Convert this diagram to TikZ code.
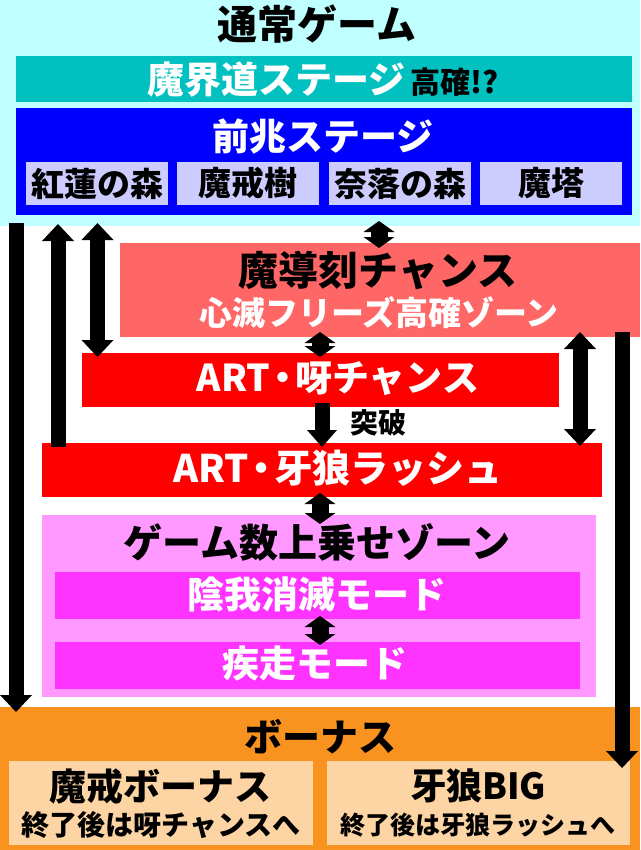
\documentclass[tikz,border=0pt]{standalone}
\usepackage{fontspec}
\setmainfont{Noto Sans CJK JP}
\usetikzlibrary{arrows.meta}
\newcommand\fsz[1]{\fontsize{#1pt}{#1pt}\selectfont}
\newcommand\ndot{\hspace{-6pt}・\hspace{-6pt}}
\definecolor{cybg}{HTML}{C0FFFF}
\definecolor{teal1}{HTML}{00C0C0}
\definecolor{blue1}{HTML}{0000FF}
\definecolor{lav}{HTML}{CCCCFF}
\definecolor{salmon1}{HTML}{FF6666}
\definecolor{red1}{HTML}{FF0000}
\definecolor{pink1}{HTML}{FF99FF}
\definecolor{mag1}{HTML}{FF33FF}
\definecolor{orange1}{HTML}{F7931E}
\definecolor{peach1}{HTML}{FDD4A3}
\tikzset{
  box/.style={rectangle, inner sep=0pt, outer sep=0pt, draw=none},
  lbl/.style={inner sep=0pt, outer sep=0pt},
  subbox/.style={box, fill=lav, minimum width=142pt, minimum height=43pt, font=\bfseries\fsz{33}},
  magbox/.style={box, fill=mag1, minimum width=525pt, minimum height=47pt},
  peachbox/.style={box, fill=peach1, minimum height=84pt},
  bt/.tip={Triangle[width=32pt,length=17pt,line width=0pt]},
  st/.tip={Triangle[width=31pt,length=11pt,line width=0pt]},
  bigarr/.style={line width=15pt, draw=black},
  smallarr/.style={line width=17pt, draw=black, {st}-{st}},
}
\begin{document}
\begin{tikzpicture}[x=1pt,y=-1pt, every node/.append style={font=\bfseries}]
\useasboundingbox (0,0) rectangle (640,850);
% top area
\node[box, fill=cybg, minimum width=640pt, minimum height=226pt] (top) at (320,113) {};
\node[lbl, font=\bfseries\fsz{40}] (ttl) at (317,24) {通常ゲーム};
\node[box, fill=teal1, minimum width=616pt, minimum height=46pt] (makai) at (324,79) {};
\node[lbl] (makait) at (323,80) {{\color{white}\fsz{37}魔界道ステージ}\hspace{5pt}{\fsz{30}高確!?}};
\node[box, fill=blue1, minimum width=616pt, minimum height=107pt] (zen) at (324,161.5) {};
\node[lbl, text=white, font=\bfseries\fsz{37}] (zent) at (323,136) {前兆ステージ};
\node[subbox] (s1) at (97,183.5) {紅蓮の森};
\node[subbox] (s2) at (248,183.5) {魔戒樹};
\node[subbox] (s3) at (400,183.5) {奈落の森};
\node[subbox] (s4) at (551,183.5) {魔塔};
% madou
\node[box, fill=salmon1, minimum width=520pt, minimum height=94pt] (mado) at (380,290) {};
\node[lbl, font=\bfseries\fsz{40}] (madot) at (378,271) {魔導刻チャンス};
\node[lbl, text=white, font=\bfseries\fsz{33}] (madot2) at (379,313) {心滅フリーズ高確ゾーン};
% ART
\node[box, fill=red1, minimum width=477pt, minimum height=54pt] (art1) at (320.5,380) {};
\node[lbl, text=white, font=\bfseries\fsz{37}] (art1t) at (338,379) {ART\ndot 呀チャンス};
\node[lbl, font=\bfseries\fsz{28}] (toppa) at (378,423) {突破};
\node[box, fill=red1, minimum width=560pt, minimum height=54pt] (art2) at (322,470) {};
\node[lbl, text=white, font=\bfseries\fsz{38}] (art2t) at (338,468) {ART\ndot 牙狼ラッシュ};
% zone
\node[box, fill=pink1, minimum width=554pt, minimum height=182pt] (zone) at (319,606) {};
\node[lbl, font=\bfseries\fsz{39}] (zonet) at (317,542) {ゲーム数上乗せゾーン};
\node[magbox] (m1) at (317.5,595.5) {};
\node[lbl, text=white, font=\bfseries\fsz{37}] (m1t) at (317,595) {陰我消滅モード};
\node[magbox] (m2) at (317.5,665.5) {};
\node[lbl, text=white, font=\bfseries\fsz{37}] (m2t) at (315,664) {疾走モード};
% bonus
\node[box, fill=orange1, minimum width=640pt, minimum height=143pt] (bonus) at (320,778.5) {};
\node[lbl, font=\bfseries\fsz{38}] (bonust) at (320,737) {ボーナス};
\node[peachbox, minimum width=304pt] (bl) at (161,803) {};
\node[lbl, font=\bfseries\fsz{37}] (blt) at (160,786) {魔戒ボーナス};
\node[lbl, font=\bfseries\fsz{28}] (blt2) at (161,825) {終了後は呀チャンスへ};
\node[peachbox, minimum width=303pt] (br) at (478.5,803) {};
\node[lbl, font=\bfseries\fsz{36}] (brt) at (478,786) {牙狼BIG};
\node[lbl, font=\bfseries\fsz{25}] (brt2) at (478,825) {終了後は牙狼ラッシュへ};
% arrow end points
\coordinate (aL1) at (16,223);   \coordinate (aL2) at (16,712);
\coordinate (aU1) at (58,447);   \coordinate (aU2) at (58,224);
\coordinate (aD1) at (97.5,223); \coordinate (aD2) at (97.5,357);
\coordinate (sA1) at (379,221);  \coordinate (sA2) at (379,248);
\coordinate (sB1) at (320,332);  \coordinate (sB2) at (320,357);
\coordinate (aT1) at (322,403);  \coordinate (aT2) at (322,447);
\coordinate (aR1) at (580,332);  \coordinate (aR2) at (580,446);
\coordinate (aRL1) at (622,332); \coordinate (aRL2) at (622,768);
\coordinate (sC1) at (320,493);  \coordinate (sC2) at (320,524);
\coordinate (sD1) at (320,616);  \coordinate (sD2) at (320,645);
% arrows
\draw[bigarr, -{bt}] (aL1) -- (aL2);
\draw[bigarr, -{bt}] (aU1) -- (aU2);
\draw[bigarr, {bt}-{bt}] (aD1) -- (aD2);
\draw[smallarr] (sA1) -- (sA2);
\draw[smallarr] (sB1) -- (sB2);
\draw[bigarr, -{Triangle[width=30pt,length=17pt,line width=0pt]}] (aT1) -- (aT2);
\draw[bigarr, {bt}-{bt}] (aR1) -- (aR2);
\draw[bigarr, -{bt}] (aRL1) -- (aRL2);
\draw[smallarr] (sC1) -- (sC2);
\draw[smallarr] (sD1) -- (sD2);
\end{tikzpicture}
\end{document}
